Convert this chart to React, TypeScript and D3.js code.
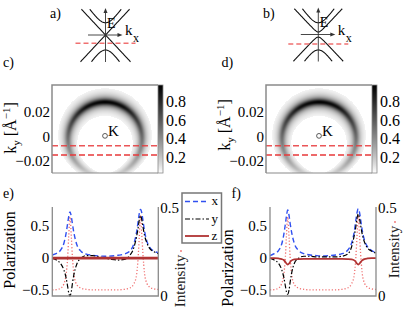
import React, { useMemo } from "react";
import * as d3 from "d3";

// ---- a) / b) band sketches (k and E in sketch units) ----
const bandSign = [1, -1, 1, -1];
const bandVel = [1.07, 1.07, 1.44, 1.58];
const bandMassA = [0, 0, 0.49, 0.6];
const bandMassB = [0.1, 0.1, 0.47, 0.62];
const sketchCut = [-0.33, -0.38];

// ---- c) / d) intensity ring ----
const ringKy0 = -0.0019;
const ringRadius = 0.0299;
const ringWidth = 0.003;
const ringAngle = [0, 30, 60, 90, 120, 150, 180];
const ringWeight = [0.97, 0.9, 0.7, 0.5, 0.34, 0.2, 0.06];
const cutKy = [-0.0073, -0.0148];
const kyTicks = [0.02, 0, -0.02];
const cbarTicks = [0.8, 0.6, 0.4, 0.2];

// ---- e) / f) polarization along the cut ----
const T = [0, 0.04, 0.08, 0.11, 0.13, 0.145, 0.155, 0.167, 0.18, 0.19, 0.205, 0.23, 0.27, 0.32, 0.38, 0.44, 0.5,
  0.56, 0.62, 0.68, 0.73, 0.77, 0.795, 0.81, 0.82, 0.833, 0.845, 0.855, 0.87, 0.89, 0.92, 0.96, 1];

const eX = [0.05, 0.075, 0.13, 0.24, 0.39, 0.55, 0.66, 0.73, 0.65, 0.54, 0.39, 0.22, 0.11, 0.065, 0.045, 0.035, 0.03,
  0.035, 0.045, 0.065, 0.11, 0.23, 0.41, 0.58, 0.7, 0.77, 0.71, 0.6, 0.43, 0.28, 0.17, 0.11, 0.085];
const eY = [0.0, -0.03, -0.09, -0.19, -0.31, -0.45, -0.55, -0.6, -0.52, -0.4, -0.25, -0.1, 0.0, 0.04, 0.04, 0.02, 0.0,
  -0.02, -0.03, -0.02, 0.04, 0.17, 0.34, 0.48, 0.6, 0.67, 0.6, 0.5, 0.36, 0.25, 0.15, 0.1, 0.07];
const eZ = [0, 0, 0, 0, 0, 0, 0, 0, 0, 0, 0, 0, 0, 0, 0, 0, 0,
  0, 0, 0, 0, 0, 0, 0, 0, 0, 0, 0, 0, 0, 0, 0, 0];
const eI = [0.035, 0.036, 0.045, 0.07, 0.12, 0.22, 0.34, 0.45, 0.33, 0.22, 0.12, 0.065, 0.045, 0.038, 0.035, 0.035, 0.035,
  0.035, 0.035, 0.038, 0.045, 0.07, 0.12, 0.22, 0.33, 0.46, 0.34, 0.24, 0.13, 0.075, 0.05, 0.04, 0.037];

const fX = [0.04, 0.07, 0.12, 0.22, 0.37, 0.54, 0.66, 0.76, 0.67, 0.55, 0.4, 0.23, 0.12, 0.07, 0.05, 0.04, 0.035,
  0.04, 0.05, 0.07, 0.12, 0.24, 0.42, 0.6, 0.71, 0.78, 0.72, 0.61, 0.44, 0.29, 0.18, 0.12, 0.09];
const fY = [0.0, -0.03, -0.08, -0.18, -0.3, -0.44, -0.53, -0.57, -0.5, -0.38, -0.23, -0.08, 0.0, 0.03, 0.03, 0.02, 0.02,
  0.02, 0.02, 0.03, 0.06, 0.18, 0.36, 0.5, 0.62, 0.7, 0.62, 0.52, 0.38, 0.26, 0.16, 0.11, 0.08];
const fZ = [0, 0, -0.005, -0.015, -0.03, -0.06, -0.085, -0.1, -0.085, -0.06, -0.035, -0.02, -0.015, -0.012, -0.012, -0.012, -0.012,
  -0.012, -0.012, -0.012, -0.015, -0.02, -0.035, -0.06, -0.085, -0.1, -0.085, -0.06, -0.035, -0.015, -0.005, 0, 0];
const fI = [0.035, 0.036, 0.045, 0.07, 0.12, 0.22, 0.34, 0.45, 0.33, 0.22, 0.12, 0.065, 0.045, 0.038, 0.035, 0.035, 0.035,
  0.035, 0.035, 0.038, 0.045, 0.07, 0.12, 0.22, 0.33, 0.46, 0.34, 0.24, 0.13, 0.075, 0.05, 0.04, 0.037];

const polTicks = [0.5, 0, -0.5];
const intTicks = [0.5, 0];
const legendNames = ["x", "y", "z"];

const FONT = "Liberation Serif";
const FRAME = "#8a8a8a";
const BLUE = "#3050f0";
const DARKRED = "#b03333";
const PINK = "#f07070";
const CUTRED = "#e8383a";

const fmt = (v: number) => (v === 0 ? "0" : (v < 0 ? "\u2212" : "") + String(Math.abs(v)));

// map size
const MW = 106;
const MH = 88;
const kxS = d3.scaleLinear().domain([-0.04285, 0.04285]).range([0, MW]);
const kyS = d3.scaleLinear().domain([-0.0293, 0.0418]).range([MH, 0]);
const cbS = d3.scaleLinear().domain([0.04, 0.975]).range([MH, 0]);
const weightS = d3.scaleLinear().domain(ringAngle).range(ringWeight).clamp(true);

const grayOf = (v: number) => {
  const t = Math.max(0, Math.min(1, (v - 0.04) / 0.935));
  const l = Math.round(255 * (1 - Math.pow(t, 0.85)));
  return d3.rgb(l, l, l).formatHex();
};

function Sketch({ cx, cy, mass, cutE, label, lx }: any) {
  const px = (k: number) => cx + k * 25;
  const py = (e: number) => cy - e * 25;
  const line = d3.line<[number, number]>().x((d) => px(d[0])).y((d) => py(d[1]));
  const paths = bandSign.map((s, i) => {
    const lim = s > 0 ? 1.03 : 1.07;
    const kmax = Math.sqrt(lim * lim - mass[i] * mass[i]) / bandVel[i];
    const pts: [number, number][] = d3.range(61).map((j) => {
      const k = -kmax + (2 * kmax * j) / 60;
      return [k, s * Math.sqrt(mass[i] * mass[i] + bandVel[i] * bandVel[i] * k * k)];
    });
    return line(pts) as string;
  });
  const top = cy - 27;
  const right = cx + 17;
  return (
    <g>
      <text x={lx} y={18} fontSize={14} fontFamily={FONT}>{label}</text>
      {paths.map((d, i) => (
        <path key={i} d={d} fill="none" stroke="#111" strokeWidth={1.1} />
      ))}
      <line x1={cx} x2={cx} y1={cy + 27} y2={top + 4} stroke="#333" strokeWidth={0.9} />
      <path d={`M${cx},${top} L${cx - 2},${top + 5} L${cx + 2},${top + 5} Z`} fill="#333" />
      <line x1={cx - 17.5} x2={right - 4} y1={cy} y2={cy} stroke="#333" strokeWidth={0.9} />
      <path d={`M${right},${cy} L${right - 5},${cy - 2} L${right - 5},${cy + 2} Z`} fill="#333" />
      <line x1={px(-1.2)} x2={px(1.2)} y1={py(cutE)} y2={py(cutE)} stroke={PINK} strokeWidth={1.5} strokeDasharray="5,3" />
      <text x={cx + 1.5} y={cy - 7.5} fontSize={14} fontFamily={FONT}>E</text>
      <text x={cx + 19.5} y={cy} fontSize={15} fontFamily={FONT}>k</text>
      <text x={cx + 27.5} y={cy + 7} fontSize={12} fontFamily={FONT}>x</text>
    </g>
  );
}

function MapPanel({ x0, y0, cells, label, labelX, axisX, axisY, gradId }: any) {
  return (
    <g>
      <text x={labelX} y={67} fontSize={14} fontFamily={FONT}>{label}</text>
      <g transform={`translate(${x0},${y0})`}>
        <rect x={0} y={0} width={MW} height={MH} fill="#fff" />
        {cells.map((c: any, i: number) => (
          <rect key={i} x={c.x} y={c.y} width={1.05} height={1.05} fill={c.fill} />
        ))}
        {cutKy.map((k, i) => (
          <line key={i} x1={0} x2={MW} y1={kyS(k)} y2={kyS(k)} stroke={CUTRED} strokeWidth={1.5} strokeDasharray="6,3" opacity={i === 0 ? 0.85 : 1} />
        ))}
        <circle cx={kxS(0)} cy={kyS(0.0007)} r={2.4} fill="none" stroke="#333" strokeWidth={0.8} />
        <text x={kxS(0) + 3} y={kyS(0.0007)} fontSize={15} fontFamily={FONT}>K</text>
        <path d={`M0,${MH} L0,0 L${MW},0`} fill="none" stroke={FRAME} strokeWidth={1.5} />
        <line x1={0} x2={MW} y1={MH} y2={MH} stroke={FRAME} strokeWidth={1.2} />
        {kyTicks.map((t) => (
          <text key={t} x={-2} y={kyS(t)} dy="0.33em" textAnchor="end" fontSize={15} fontFamily={FONT}>{fmt(t)}</text>
        ))}
        <rect x={MW} y={0} width={5} height={MH} fill={`url(#${gradId})`} stroke={FRAME} strokeWidth={0.8} />
        {cbarTicks.map((t) => (
          <text key={t} x={MW + 8} y={cbS(t)} dy="0.33em" fontSize={16} fontFamily={FONT}>{fmt(t)}</text>
        ))}
      </g>
      <text transform={`translate(${axisX},${axisY}) rotate(-90)`} textAnchor="middle" fontSize={16} fontFamily={FONT}>
        k<tspan dy={4} fontSize={11}>y</tspan>
        <tspan dy={-4}> [Å</tspan>
        <tspan dy={-6} fontSize={11}>{"\u22121"}</tspan>
        <tspan dy={6}>]</tspan>
      </text>
    </g>
  );
}

function CutPanel({ x0, xs, ys, zs, is, zWidth, label, labelX, polX, polY, intX, intY }: any) {
  const xT = d3.scaleLinear().domain([0, 1]).range([x0, x0 + 106]);
  const yP = d3.scaleLinear().domain([-0.598, 0.808]).range([296, 207]);
  const yI = d3.scaleLinear().domain([0, 0.506]).range([296, 207]);
  const lineP = (vals: number[]) =>
    d3.line<number>().x((_, i) => xT(T[i])).y((d) => yP(d)).curve(d3.curveMonotoneX)(vals) as string;
  const lineI = d3.line<number>().x((_, i) => xT(T[i])).y((d) => yI(d)).curve(d3.curveMonotoneX)(is) as string;
  const xr = x0 + 106;
  return (
    <g>
      <text x={labelX} y={198} fontSize={14} fontFamily={FONT}>{label}</text>
      <path d={lineI} fill="none" stroke={PINK} strokeWidth={1.3} strokeDasharray="1.2,2" />
      <path d={lineP(xs)} fill="none" stroke={BLUE} strokeWidth={1.4} strokeDasharray="5,3" />
      <path d={lineP(ys)} fill="none" stroke="#000" strokeWidth={1.2} strokeDasharray="5,2,1.5,2" />
      <path d={lineP(zs)} fill="none" stroke={DARKRED} strokeWidth={zWidth} />
      <path d={`M${x0},207 L${x0},296 L${xr},296 L${xr},207`} fill="none" stroke={FRAME} strokeWidth={1.3} />
      {polTicks.map((t) => (
        <text key={t} x={x0 - 3} y={yP(t)} dy="0.33em" textAnchor="end" fontSize={15} fontFamily={FONT}>{fmt(t)}</text>
      ))}
      {intTicks.map((t) => (
        <text key={t} x={xr + 2} y={yI(t)} dy="0.33em" fontSize={15} fontFamily={FONT}>{fmt(t)}</text>
      ))}
      <text transform={`translate(${polX},${polY}) rotate(-90)`} textAnchor="middle" fontSize={16} fontFamily={FONT}>Polarization</text>
      <text transform={`translate(${intX},${intY}) rotate(-90)`} textAnchor="middle" fontSize={15} fontFamily={FONT} fill="#222">Intensity</text>
      <circle cx={intX - 3.5} cy={intY - 30} r={0.9} fill={PINK} />
    </g>
  );
}

export default function App() {
  const cells = useMemo(() => {
    const out: { x: number; y: number; fill: string }[] = [];
    for (let i = 0; i < MW; i++) {
      for (let j = 0; j < MH; j++) {
        const kx = kxS.invert(i + 0.5);
        const ky = kyS.invert(j + 0.5) - ringKy0;
        const r = Math.hypot(kx, ky);
        const ang = (Math.atan2(Math.abs(kx), ky) * 180) / Math.PI;
        const d = (r - ringRadius) / ringWidth;
        const v = weightS(ang) / (1 + d * d);
        if (v < 0.065) continue;
        out.push({ x: i, y: j, fill: grayOf(v) });
      }
    }
    return out;
  }, []);

  // gradient stops, ascending offset (top = high value)
  const stops = d3.range(0, 1.0001, 0.1).map((t) => ({ off: t, fill: grayOf(0.975 - t * 0.935) }));

  const legendY = [201.5, 219, 236];
  const legendStyle = [
    { stroke: BLUE, dash: "5,3", w: 1.4 },
    { stroke: "#000", dash: "5,2,1.5,2", w: 1.2 },
    { stroke: DARKRED, dash: "none", w: 1.8 },
  ];

  return (
    <svg width={407} height={310} style={{ position: "absolute", left: 0, top: 0, background: "#fff" }}>
      <defs>
        <linearGradient id="cbar" x1="0" y1="0" x2="0" y2="1">
          {stops.map((s, i) => (
            <stop key={i} offset={s.off} stopColor={s.fill} />
          ))}
        </linearGradient>
      </defs>
      <Sketch cx={105.5} cy={35} mass={bandMassA} cutE={sketchCut[0]} label="a)" lx={50} />
      <Sketch cx={318.3} cy={34.5} mass={bandMassB} cutE={sketchCut[1]} label="b)" lx={263} />

      <MapPanel x0={52} y0={85} cells={cells} label="c)" labelX={3} axisX={16} axisY={128} gradId="cbar" />
      <MapPanel x0={266} y0={85} cells={cells} label="d)" labelX={221.5} axisX={230} axisY={125} gradId="cbar" />

      <CutPanel x0={52.3} xs={eX} ys={eY} zs={eZ} is={eI} zWidth={2.6} label="e)" labelX={3} polX={15} polY={250} intX={184.5} intY={281} />
      <CutPanel x0={270} xs={fX} ys={fY} zs={fZ} is={fI} zWidth={1.8} label="f)" labelX={231.5} polX={233} polY={268} intX={398.5} intY={252} />

      <rect x={182} y={193} width={39.5} height={50} fill="#fff" stroke="#777" strokeWidth={1.5} />
      {legendNames.map((n, i) => (
        <g key={n}>
          <line x1={185} x2={209} y1={legendY[i]} y2={legendY[i]} stroke={legendStyle[i].stroke}
            strokeWidth={legendStyle[i].w} strokeDasharray={legendStyle[i].dash} />
          <text x={211.5} y={legendY[i] + 3.5} fontSize={13} fontFamily={FONT}>{n}</text>
        </g>
      ))}
    </svg>
  );
}
